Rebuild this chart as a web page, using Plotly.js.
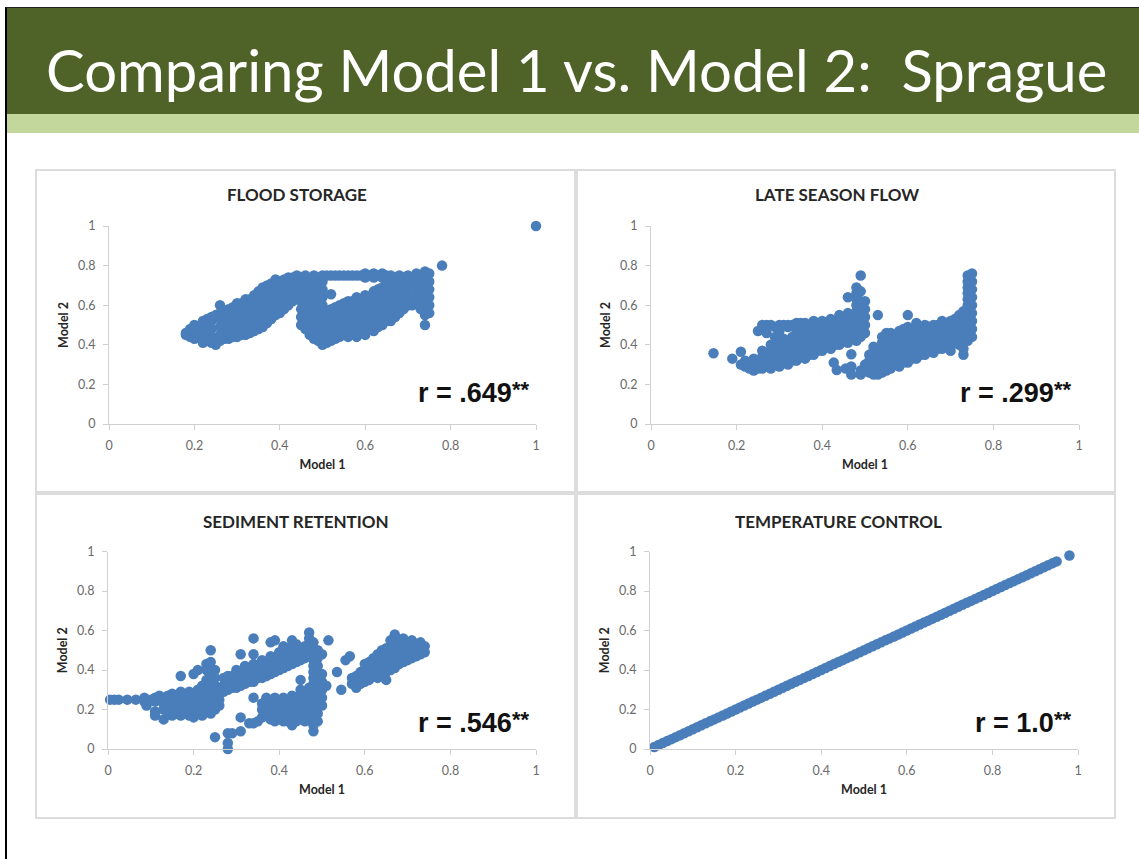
<!DOCTYPE html>
<html><head><meta charset="utf-8">
<script src="https://cdn.plot.ly/plotly-3.0.1.min.js"></script>
<style>html,body{margin:0;padding:0;background:#fff}#chart{width:1139px;height:859px}</style>
</head><body><div id="chart"></div>
<script>
// ---------- text ----------
const slideTitle = 'Comparing Model 1 vs. Model 2:\u00a0 Sprague';
const panelTitles = ['FLOOD STORAGE', 'LATE SEASON FLOW', 'SEDIMENT RETENTION', 'TEMPERATURE CONTROL'];
const rValues = ['.649', '.299', '.546', '1.0'];
const rStars = '**';
const xTitle = 'Model 1';
const yTitle = 'Model 2';
const tickVals = [0, 0.2, 0.4, 0.6, 0.8, 1];
const tickText = ['0', '0.2', '0.4', '0.6', '0.8', '1'];

// ---------- data: [Model 1 value, [Model 2 values read at that Model 1 value]] ----------
const floodCols = [
  [0.18,[0.45,0.46]],[0.19,[0.44,0.48]],[0.20,[0.43,0.47,0.50]],[0.21,[0.45,0.49]],
  [0.22,[0.41,0.44,0.48,0.52]],[0.23,[0.42,0.46,0.50,0.53]],[0.24,[0.41,0.44,0.48,0.52,0.54]],[0.25,[0.40,0.55]],
  [0.26,[0.42,0.45,0.49,0.53,0.56,0.60]],[0.27,[0.43,0.47,0.51,0.55,0.57]],[0.28,[0.43,0.46,0.50,0.54,0.58]],
  [0.29,[0.44,0.48,0.52,0.56,0.59]],[0.30,[0.44,0.47,0.51,0.55,0.58,0.61]],[0.31,[0.45,0.49,0.53,0.57,0.61]],
  [0.32,[0.45,0.49,0.53,0.57,0.60,0.63]],[0.33,[0.46,0.51,0.55,0.59,0.63]],
  [0.34,[0.47,0.51,0.55,0.59,0.62,0.65]],[0.35,[0.48,0.52,0.56,0.60,0.64,0.67]],
  [0.36,[0.49,0.53,0.57,0.61,0.65,0.69]],[0.37,[0.51,0.55,0.59,0.63,0.67,0.70]],
  [0.38,[0.53,0.57,0.61,0.65,0.68,0.71]],[0.39,[0.55,0.59,0.63,0.67,0.70,0.73]],
  [0.40,[0.56,0.60,0.64,0.68,0.72]],[0.41,[0.58,0.62,0.66,0.70,0.73]],
  [0.42,[0.60,0.64,0.68,0.71,0.74]],[0.43,[0.62,0.66,0.70,0.74]],[0.44,[0.63,0.67,0.71,0.75]],
  [0.45,[0.50,0.54,0.58,0.62,0.66,0.70,0.74]],
  [0.46,[0.48,0.52,0.56,0.60,0.64,0.68,0.72,0.75]],[0.47,[0.45,0.49,0.53,0.57,0.61,0.65,0.69,0.73]],
  [0.48,[0.43,0.47,0.51,0.55,0.59,0.63,0.67,0.71,0.75]],[0.49,[0.42,0.46,0.50,0.54,0.58,0.62,0.66,0.70,0.74]],
  [0.50,[0.40,0.44,0.48,0.52,0.56,0.60,0.64,0.68,0.72,0.75]],[0.51,[0.41,0.45,0.49,0.53,0.57,0.75]],
  [0.52,[0.42,0.46,0.50,0.54,0.58,0.655,0.75]],[0.53,[0.43,0.47,0.51,0.55,0.59,0.75]],
  [0.54,[0.44,0.48,0.52,0.56,0.60,0.75]],[0.55,[0.45,0.49,0.53,0.57,0.61,0.75]],
  [0.56,[0.44,0.48,0.52,0.56,0.60,0.62,0.75]],[0.57,[0.46,0.50,0.54,0.58,0.62,0.75]],
  [0.58,[0.44,0.48,0.52,0.56,0.60,0.64,0.75]],[0.59,[0.46,0.50,0.54,0.58,0.62,0.75]],
  [0.60,[0.45,0.49,0.53,0.57,0.61,0.65,0.74,0.76]],[0.61,[0.48,0.52,0.56,0.60,0.64,0.75]],
  [0.62,[0.47,0.51,0.55,0.59,0.63,0.67,0.74,0.76]],[0.63,[0.49,0.53,0.57,0.61,0.65,0.68,0.75]],
  [0.64,[0.50,0.54,0.58,0.62,0.66,0.69,0.74,0.76]],[0.65,[0.52,0.56,0.60,0.64,0.68,0.71,0.75]],
  [0.66,[0.52,0.56,0.60,0.64,0.68,0.71,0.75]],[0.67,[0.54,0.58,0.62,0.66,0.70,0.74]],
  [0.68,[0.56,0.60,0.64,0.68,0.72,0.75]],[0.69,[0.58,0.62,0.66,0.70,0.74]],
  [0.70,[0.60,0.64,0.68,0.72,0.75]],[0.71,[0.60]],
  [0.72,[0.63,0.66,0.70,0.73,0.76]],[0.73,[0.58,0.62,0.65,0.68,0.72,0.75]],
  [0.74,[0.50,0.55,0.59,0.63,0.67,0.71,0.74,0.77]],
  [0.75,[0.56,0.60,0.64,0.68,0.72,0.76]],[0.78,[0.80]],[1.0,[1.0]]
];
const lateCols = [
  [0.146,[0.357]],[0.19,[0.33]],[0.21,[0.30,0.365]],[0.22,[0.29,0.32]],[0.23,[0.28,0.31]],
  [0.24,[0.27,0.30,0.33]],[0.25,[0.28,0.47]],[0.26,[0.28,0.31,0.34,0.37,0.50]],
  [0.27,[0.29,0.35,0.46,0.50]],[0.28,[0.28,0.31,0.34,0.37,0.40,0.50]],
  [0.29,[0.30,0.36,0.44,0.49]],
  [0.30,[0.29,0.32,0.35,0.38,0.41,0.44,0.47,0.50]],[0.31,[0.31,0.37,0.43,0.50]],
  [0.32,[0.30,0.33,0.36,0.39,0.42,0.49,0.50]],[0.33,[0.32,0.38,0.44,0.50]],
  [0.34,[0.32,0.35,0.38,0.41,0.44,0.47,0.51]],[0.35,[0.34,0.40,0.46,0.51]],
  [0.36,[0.33,0.36,0.39,0.42,0.48,0.51]],[0.37,[0.35,0.41,0.45,0.50]],
  [0.38,[0.35,0.38,0.41,0.44,0.47,0.50,0.52]],[0.39,[0.37,0.43,0.49]],
  [0.40,[0.37,0.40,0.43,0.46,0.49,0.52]],[0.41,[0.39,0.45,0.51]],
  [0.42,[0.38,0.41,0.44,0.47,0.50,0.53]],[0.427,[0.31]],[0.434,[0.273]],[0.43,[0.40,0.46,0.52]],
  [0.44,[0.40,0.43,0.46,0.49,0.52,0.55]],[0.455,[0.28]],[0.45,[0.42,0.48,0.54]],
  [0.46,[0.41,0.44,0.47,0.50,0.53,0.56,0.64]],[0.468,[0.25,0.29,0.352]],[0.47,[0.43,0.49,0.55]],
  [0.48,[0.42,0.45,0.48,0.51,0.54,0.57,0.60,0.63,0.66,0.69]],
  [0.49,[0.25,0.27,0.44,0.50,0.56,0.62,0.67,0.75]],
  [0.50,[0.27,0.30,0.46,0.50,0.54,0.58,0.62]],
  [0.51,[0.26,0.29,0.32,0.35]],[0.52,[0.25,0.28,0.31,0.34,0.37,0.39]],[0.53,[0.25,0.29,0.33,0.55]],
  [0.54,[0.26,0.29,0.32,0.35,0.38,0.41,0.44]],[0.55,[0.27,0.31,0.46]],
  [0.56,[0.28,0.31,0.34,0.37,0.40,0.43,0.46]],[0.57,[0.30,0.36,0.42]],
  [0.58,[0.29,0.32,0.35,0.38,0.41,0.44,0.47]],[0.59,[0.31,0.37,0.43,0.48]],
  [0.60,[0.31,0.34,0.37,0.40,0.43,0.46,0.49,0.55]],[0.61,[0.33,0.39,0.45]],
  [0.62,[0.33,0.36,0.39,0.42,0.45,0.48,0.51]],[0.63,[0.35,0.41,0.47]],
  [0.64,[0.35,0.38,0.41,0.44,0.47,0.50]],[0.65,[0.37,0.43,0.49]],
  [0.66,[0.36,0.39,0.42,0.45,0.48,0.50]],[0.67,[0.38,0.44,0.50]],
  [0.68,[0.38,0.41,0.44,0.47,0.50,0.52]],[0.69,[0.39,0.45,0.51]],
  [0.70,[0.37,0.40,0.43,0.46,0.49,0.52]],[0.71,[0.41,0.47,0.53]],
  [0.72,[0.40,0.43,0.46,0.49,0.52,0.55]],[0.73,[0.35,0.38,0.45,0.51,0.57]],
  [0.74,[0.42,0.45,0.48,0.51,0.54,0.57,0.60,0.63,0.66,0.69,0.72,0.75]],
  [0.75,[0.44,0.48,0.52,0.56,0.60,0.64,0.68,0.72,0.76]]
];
const sedimentCols = [
  [0.005,[0.25]],[0.015,[0.25]],[0.025,[0.25]],[0.045,[0.25]],[0.065,[0.25]],[0.085,[0.24,0.26]],
  [0.09,[0.22]],[0.10,[0.25]],[0.11,[0.17,0.19,0.24,0.26]],[0.12,[0.25,0.27]],
  [0.13,[0.15,0.20,0.23,0.26]],[0.14,[0.19,0.22,0.25,0.27]],[0.15,[0.17,0.20,0.23,0.26,0.28]],
  [0.16,[0.18,0.21,0.24,0.27]],[0.17,[0.17,0.20,0.23,0.26,0.29,0.37]],[0.18,[0.18,0.21,0.24,0.27]],
  [0.19,[0.17,0.20,0.23,0.26,0.29]],[0.20,[0.16,0.19,0.22,0.25,0.28,0.38]],
  [0.21,[0.18,0.21,0.24,0.27,0.30,0.40]],[0.22,[0.17,0.20,0.23,0.26,0.29,0.32]],
  [0.23,[0.19,0.22,0.25,0.28,0.31,0.35,0.40,0.43]],
  [0.24,[0.18,0.21,0.24,0.27,0.30,0.33,0.37,0.41,0.44,0.50]],
  [0.25,[0.06,0.20,0.23,0.26,0.29,0.32,0.36,0.40]],[0.26,[0.22,0.25,0.28,0.31]],
  [0.27,[0.29,0.32,0.36]],[0.28,[0.0,0.03,0.08,0.30,0.33,0.37]],[0.29,[0.08,0.31,0.34,0.37]],
  [0.30,[0.31,0.34,0.37,0.40]],[0.31,[0.09,0.16,0.32,0.35,0.38,0.48]],[0.32,[0.33,0.36,0.39,0.42]],
  [0.33,[0.13,0.34,0.37,0.40]],[0.34,[0.13,0.26,0.34,0.37,0.40,0.43,0.48,0.56]],
  [0.35,[0.14,0.36,0.39,0.42]],[0.36,[0.16,0.20,0.23,0.36,0.39,0.42,0.45]],
  [0.37,[0.17,0.20,0.23,0.26,0.37,0.40,0.43]],[0.38,[0.15,0.18,0.21,0.24,0.38,0.41,0.44,0.47,0.54]],
  [0.39,[0.14,0.17,0.20,0.23,0.26,0.39,0.42,0.45,0.55]],[0.40,[0.15,0.18,0.21,0.24,0.40,0.43,0.46,0.49]],
  [0.41,[0.14,0.17,0.20,0.23,0.26,0.41,0.44,0.47,0.52]],[0.42,[0.14,0.17,0.20,0.23,0.42,0.45,0.48,0.51]],
  [0.43,[0.12,0.16,0.19,0.22,0.25,0.27,0.43,0.46,0.49,0.55]],
  [0.44,[0.14,0.17,0.20,0.23,0.26,0.44,0.47,0.50,0.53]],
  [0.45,[0.15,0.18,0.21,0.24,0.27,0.30,0.35,0.45,0.48,0.51]],
  [0.46,[0.14,0.17,0.20,0.23,0.26,0.29,0.46,0.49,0.52]],
  [0.47,[0.16,0.19,0.22,0.25,0.28,0.31,0.47,0.50,0.53,0.56,0.59]],
  [0.48,[0.09,0.12,0.15,0.18,0.21,0.24,0.27,0.30,0.33,0.36,0.39,0.42,0.45,0.48,0.51,0.54]],
  [0.49,[0.14,0.18,0.22,0.26,0.30,0.34,0.38,0.42,0.46,0.50]],
  [0.50,[0.22,0.26,0.30,0.34,0.38,0.48]],[0.51,[0.32]],[0.515,[0.55]],[0.535,[0.39]],[0.545,[0.30]],
  [0.555,[0.45]],[0.565,[0.47]],[0.57,[0.33,0.36]],[0.58,[0.31,0.34,0.37]],[0.59,[0.33,0.36,0.39]],
  [0.60,[0.34,0.37,0.40,0.43]],[0.61,[0.35,0.38,0.41,0.44]],[0.62,[0.37,0.40,0.43,0.46]],
  [0.63,[0.36,0.39,0.42,0.45,0.48]],[0.64,[0.38,0.41,0.44,0.47,0.50]],
  [0.65,[0.35,0.39,0.42,0.45,0.48,0.51]],[0.66,[0.40,0.43,0.46,0.49,0.52,0.55]],
  [0.67,[0.41,0.44,0.47,0.50,0.53,0.58]],[0.68,[0.43,0.46,0.49,0.52,0.55]],
  [0.69,[0.44,0.47,0.50,0.53,0.56]],[0.70,[0.45,0.48,0.51,0.54]],[0.71,[0.46,0.49,0.52,0.55]],
  [0.72,[0.47,0.50,0.53]],[0.73,[0.48,0.51,0.54]],[0.74,[0.49,0.52]]
];
const tempX = [0.01,0.02,0.03,0.04,0.05,0.06,0.07,0.08,0.09,0.10,0.11,0.12,0.13,0.14,0.15,0.16,0.17,0.18,0.19,0.20,
  0.21,0.22,0.23,0.24,0.25,0.26,0.27,0.28,0.29,0.30,0.31,0.32,0.33,0.34,0.35,0.36,0.37,0.38,0.39,0.40,
  0.41,0.42,0.43,0.44,0.45,0.46,0.47,0.48,0.49,0.50,0.51,0.52,0.53,0.54,0.55,0.56,0.57,0.58,0.59,0.60,
  0.61,0.62,0.63,0.64,0.65,0.66,0.67,0.68,0.69,0.70,0.71,0.72,0.73,0.74,0.75,0.76,0.77,0.78,0.79,0.80,
  0.81,0.82,0.83,0.84,0.85,0.86,0.87,0.88,0.89,0.90,0.91,0.92,0.93,0.94,0.95,0.98];
const tempY = [0.01,0.02,0.03,0.04,0.05,0.06,0.07,0.08,0.09,0.10,0.11,0.12,0.13,0.14,0.15,0.16,0.17,0.18,0.19,0.20,
  0.21,0.22,0.23,0.24,0.25,0.26,0.27,0.28,0.29,0.30,0.31,0.32,0.33,0.34,0.35,0.36,0.37,0.38,0.39,0.40,
  0.41,0.42,0.43,0.44,0.45,0.46,0.47,0.48,0.49,0.50,0.51,0.52,0.53,0.54,0.55,0.56,0.57,0.58,0.59,0.60,
  0.61,0.62,0.63,0.64,0.65,0.66,0.67,0.68,0.69,0.70,0.71,0.72,0.73,0.74,0.75,0.76,0.77,0.78,0.79,0.80,
  0.81,0.82,0.83,0.84,0.85,0.86,0.87,0.88,0.89,0.90,0.91,0.92,0.93,0.94,0.95,0.98];

function expand(cols) {
  const x = [], y = [];
  cols.forEach(c => c[1].forEach(v => { x.push(c[0]); y.push(v); }));
  return { x, y };
}

// ---------- layout helpers ----------
const W = 1139, H = 859;
const px = p => p / W;
const py = p => 1 - p / H;
const BLUE = '#4a7ebb';
const FONT = 'Lato, "Open Sans", sans-serif';
const RFONT = '"Liberation Sans", Arial, sans-serif';

// plot areas in pixels [x0, x1, yTop(=1), yBottom(=0)]
const areas = [
  [109, 536, 226, 424],
  [651, 1079, 226, 424],
  [108, 536, 551.5, 749],
  [650, 1078, 551.5, 749]
];
const boxes = [
  [36, 170, 575, 492], [577, 170, 1115, 492],
  [36, 494, 575, 818], [577, 494, 1115, 818]
];
const titleCenters = [[297, 195], [837, 195], [296, 521], [838, 521]];
const rAnchors = [[514, 393], [1056, 393], [514, 723], [1056, 723]];

const series = [expand(floodCols), expand(lateCols), expand(sedimentCols), { x: tempX, y: tempY }];

const traces = series.map((s, i) => ({
  type: 'scatter', mode: 'markers', x: s.x, y: s.y,
  xaxis: i === 0 ? 'x' : 'x' + (i + 1), yaxis: i === 0 ? 'y' : 'y' + (i + 1),
  marker: { size: 10.5, color: BLUE, line: { width: 0 } },
  cliponaxis: false, hoverinfo: 'skip', showlegend: false
}));

function axis(domain, anchor, titleText, standoff) {
  return {
    domain, anchor, range: [0, 1], tickvals: tickVals, ticktext: tickText,
    showgrid: false, zeroline: false, showline: true, linecolor: '#d0d0d0', linewidth: 1,
    ticks: 'outside', ticklen: 5, tickwidth: 1, tickcolor: '#d0d0d0', ticklabelstandoff: 5,
    tickfont: { family: FONT, size: 12.5, color: '#6a6a6a' }, fixedrange: true,
    title: { text: titleText, standoff, font: { family: FONT, size: 12.5, color: '#262626', weight: 'bold' } }
  };
}

const layout = {
  width: W, height: H, margin: { l: 0, r: 0, t: 0, b: 0 },
  paper_bgcolor: '#ffffff', plot_bgcolor: 'rgba(0,0,0,0)', showlegend: false,
  shapes: [], annotations: []
};

areas.forEach((a, i) => {
  const sfx = i === 0 ? '' : String(i + 1);
  layout['xaxis' + sfx] = axis([px(a[0]), px(a[1])], 'y' + sfx, xTitle, 8);
  layout['yaxis' + sfx] = axis([py(a[3]), py(a[2])], 'x' + sfx, yTitle, 6);
});

// slide frame & header
layout.shapes.push(
  { type: 'rect', xref: 'paper', yref: 'paper', x0: px(7), x1: 1, y0: py(114), y1: py(8), fillcolor: '#4f6228', line: { width: 0 }, layer: 'below' },
  { type: 'rect', xref: 'paper', yref: 'paper', x0: px(7), x1: 1, y0: py(133), y1: py(114), fillcolor: '#c3d69b', line: { width: 0 }, layer: 'below' },
  { type: 'line', xref: 'paper', yref: 'paper', x0: px(6), x1: px(6), y0: 0, y1: py(7), line: { color: '#000', width: 2 } },
  { type: 'line', xref: 'paper', yref: 'paper', x0: px(6), x1: 1, y0: py(7.5), y1: py(7.5), line: { color: '#222', width: 1 } }
);
boxes.forEach(b => layout.shapes.push({
  type: 'rect', xref: 'paper', yref: 'paper', x0: px(b[0]), x1: px(b[2]), y0: py(b[3]), y1: py(b[1]),
  line: { color: '#dcdcdc', width: 2 }, fillcolor: 'rgba(0,0,0,0)', layer: 'below'
}));

// slide title
layout.annotations.push({
  xref: 'paper', yref: 'paper', x: px(576), y: py(69), xanchor: 'center', yanchor: 'middle',
  text: slideTitle, showarrow: false, font: { family: FONT, size: 58, color: '#ffffff' }
});

areas.forEach((a, i) => {
  const ra = rAnchors[i];
  layout.annotations.push(
    { xref: 'paper', yref: 'paper', x: px(titleCenters[i][0]), y: py(titleCenters[i][1]), xanchor: 'center', yanchor: 'middle',
      text: panelTitles[i], showarrow: false, font: { family: FONT, size: 17, color: '#262626', weight: 'bold' } },
    { xref: 'paper', yref: 'paper', x: px(ra[0]), y: py(ra[1]), xanchor: 'right', yanchor: 'middle',
      text: 'r = ' + rValues[i], showarrow: false,
      font: { family: RFONT, size: 27, color: '#111111', weight: 'bold' } },
    { xref: 'paper', yref: 'paper', x: px(ra[0] - 4), y: py(ra[1] - 18), xanchor: 'left', yanchor: 'top',
      text: rStars, showarrow: false,
      font: { family: RFONT, size: 22, color: '#111111', weight: 'bold' } }
  );
});

Plotly.newPlot('chart', traces, layout, { displayModeBar: false, staticPlot: true });
</script>
</body></html>
